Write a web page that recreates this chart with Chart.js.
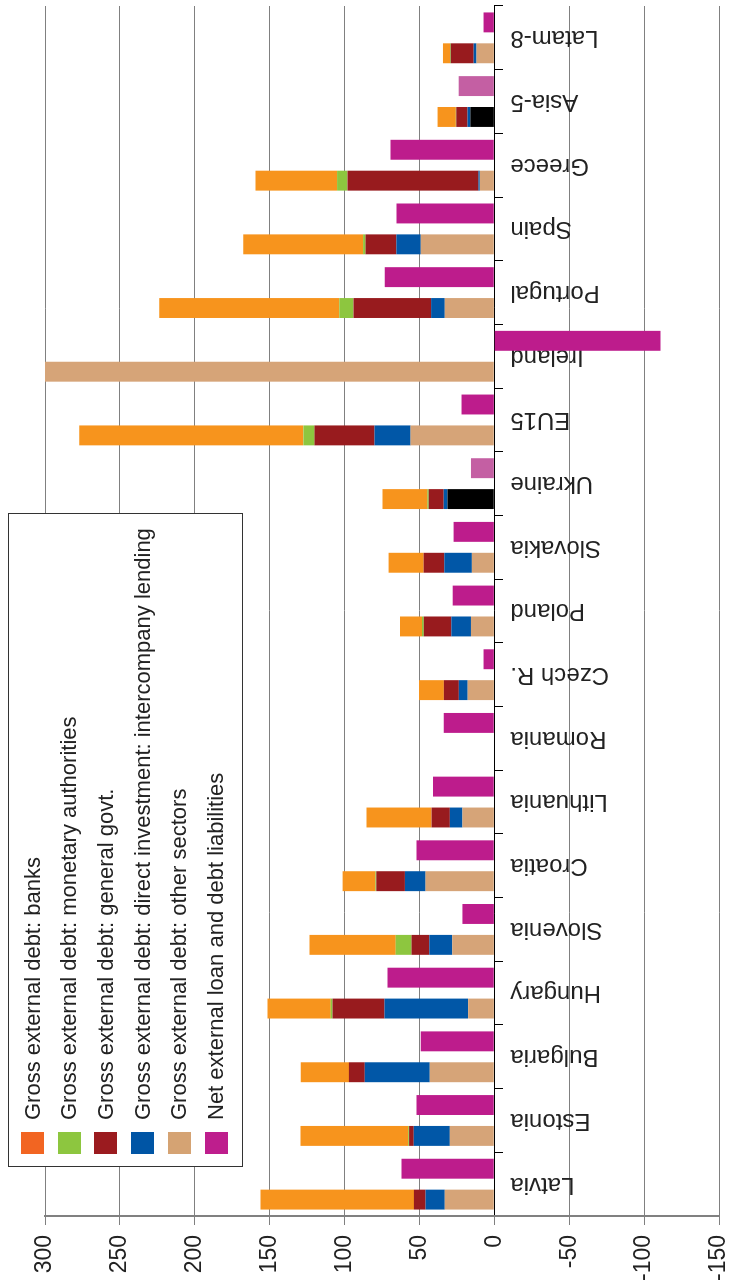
<!DOCTYPE html>
<html>
<head>
<meta charset="utf-8">
<script src="https://cdn.jsdelivr.net/npm/chart.js@4.4.0/dist/chart.umd.min.js"></script>
<style>
  html, body { margin: 0; padding: 0; background: #fff; overflow: hidden; width: 733px; height: 1286px; }
  /* the chart is drawn upright and then turned a quarter left, like the picture */
  #wrap { position: absolute; left: 0; top: 1286px; width: 1286px; height: 733px;
          transform-origin: 0 0; transform: rotate(-90deg); background: #fff; }
  #wrap canvas { position: absolute; left: 0; top: 0; }
  #legend { position: absolute; left: 119px; top: 8px; width: 654px; height: 235px; box-sizing: border-box;
            border: 1px solid #333; background: #fff; font-family: 'Liberation Sans', Arial, sans-serif;
            font-size: 22px; color: #222; }
  .row { position: absolute; left: 12px; height: 23px; display: flex; align-items: center; white-space: nowrap; }
  .sw { width: 22px; height: 23px; margin-right: 12px; flex: none; }
</style>
</head>
<body>
<div id="wrap">
  <canvas id="chart" width="1286" height="733"></canvas>
  <div id="legend"></div>
</div>
<script>
const countries = ['Latvia', 'Estonia', 'Bulgaria', 'Hungary', 'Slovenia', 'Croatia', 'Lithuania', 'Romania',
  'Czech R.', 'Poland', 'Slovakia', 'Ukraine', 'EU15', 'Ireland', 'Portugal', 'Spain', 'Greece', 'Asia-5', 'Latam-8'];

// gross external debt, % of GDP, by sector
const banks        = [102.5, 71.9, 32.2, 42.2, 57.5, 21.9, 43.4, null, 16.6, 14.7, 23.4, 30.0, 149.7, null, 120.3, 80.0, 54.4, 12.2, 4.7];
const monetary     = [0, 0.6, 0, 1.2, 10.6, 0.6, 0, null, 0, 1.2, 0, 0.9, 7.5, null, 9.4, 1.6, 6.9, 0.3, 0.5];
const generalGovt  = [7.8, 3.1, 10.6, 34.7, 11.9, 19.1, 12.2, null, 10.0, 18.4, 13.8, 10.0, 40.0, null, 51.9, 20.6, 87.5, 7.5, 15.3];
const directInv    = [12.8, 24.1, 43.4, 55.9, 15.3, 13.8, 8.4, null, 5.9, 13.1, 18.4, 2.5, 24.1, null, 9.1, 16.3, 0.9, 1.9, 1.9];
const otherSectors = [33.1, 29.7, 43.1, 17.5, 28.1, 45.9, 21.3, null, 17.8, 15.6, 15.0, 31.3, 55.9, 300, 33.1, 49.1, 9.7, 16.0, 11.9];
// net external loan and debt liabilities
const netLoanDebt  = [61.9, 51.9, 49.1, 71.3, 21.3, 51.9, 40.9, 33.8, 7.2, 27.8, 27.2, 15.6, 21.9, -110.9, 73.1, 65.3, 69.4, 23.8, 7.2];

const yTicks = [300, 250, 200, 150, 100, 50, 0, -50, -100, -150];

const seriesNames = ['Gross external debt: banks', 'Gross external debt: monetary authorities',
  'Gross external debt: general govt.', 'Gross external debt: direct investment: intercompany lending',
  'Gross external debt: other sectors', 'Net external loan and debt liabilities'];
const legendColors = ['#f26522', '#8dc63f', '#9b1b1f', '#0055a5', '#d5a373', '#be1e8d'];

const FONT = "'Liberation Sans', Arial, sans-serif";

// Ukraine and Asia-5 are shown in other shades
const odd = i => countries[i] === 'Ukraine' || countries[i] === 'Asia-5';
const otherColors = countries.map((c, i) => odd(i) ? '#000000' : '#d6a478');
const netColors = countries.map((c, i) => odd(i) ? '#c45fa3' : '#bd1c8c');

const common = { categoryPercentage: 0.97, barPercentage: 0.645, borderWidth: 0 };

new Chart(document.getElementById('chart'), {
  type: 'bar',
  data: {
    labels: countries,
    datasets: [
      { ...common, label: seriesNames[4], data: otherSectors, backgroundColor: otherColors, stack: 'gross' },
      { ...common, label: seriesNames[3], data: directInv, backgroundColor: '#0157a7', stack: 'gross' },
      { ...common, label: seriesNames[2], data: generalGovt, backgroundColor: '#981b1e', stack: 'gross' },
      { ...common, label: seriesNames[1], data: monetary, backgroundColor: '#8dc63f', stack: 'gross' },
      { ...common, label: seriesNames[0], data: banks, backgroundColor: '#f7941d', stack: 'gross' },
      { ...common, label: seriesNames[5], data: netLoanDebt, backgroundColor: netColors, stack: 'net' }
    ]
  },
  options: {
    responsive: false,
    animation: false,
    layout: { padding: { left: 0, right: 6, top: 45, bottom: 14 } },
    plugins: { legend: { display: false }, tooltip: { enabled: false } },
    scales: {
      x: {
        stacked: true,
        position: { y: 0 },
        afterFit: s => { s.height = 0; },
        grid: { drawOnChartArea: false, drawTicks: true, tickLength: 8, color: '#000', offset: true },
        border: { display: true, color: '#000', width: 1 },
        ticks: { autoSkip: false, minRotation: 90, maxRotation: 90, padding: 8,
                 font: { family: FONT, size: 24 }, color: '#222' }
      },
      y: {
        stacked: true,
        min: -150, max: 300,
        afterBuildTicks: s => { s.ticks = yTicks.map(v => ({ value: v })); },
        afterFit: s => { s.width = 70; s.paddingTop = 0; s.paddingBottom = 0; },
        grid: { color: '#808080', lineWidth: 1, tickLength: 9 },
        border: { display: true, color: '#808080', width: 2 },
        ticks: { font: { family: FONT, size: 23 }, color: '#222', padding: 10 }
      }
    }
  }
});

const legend = document.getElementById('legend');
seriesNames.forEach((name, i) => {
  const row = document.createElement('div');
  row.className = 'row';
  row.style.top = (12 + i * 36.7) + 'px';
  row.innerHTML = '<span class="sw" style="background:' + legendColors[i] + '"></span><span>' + name + '</span>';
  legend.appendChild(row);
});
</script>
</body>
</html>
